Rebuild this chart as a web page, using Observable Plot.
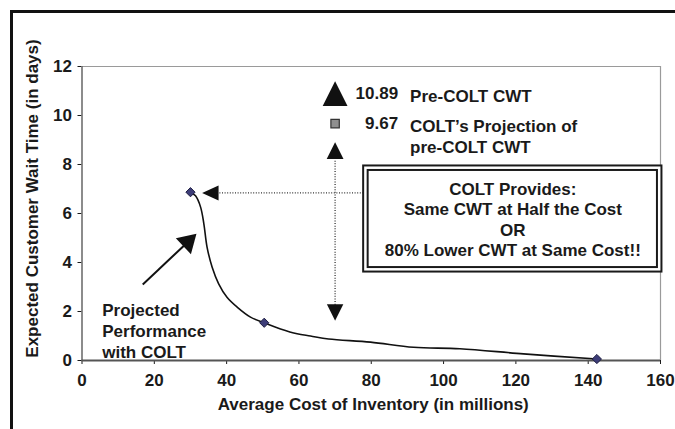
<!DOCTYPE html>
<html>
<head>
<meta charset="utf-8">
<script src="https://cdn.jsdelivr.net/npm/d3@7"></script>
<script src="https://cdn.jsdelivr.net/npm/@observablehq/plot@0.6"></script>
<style>
  html, body { margin: 0; padding: 0; background: #fff; }
  #wrap { position: relative; width: 675px; height: 429px; overflow: hidden; }
  #frame { position: absolute; left: 10px; top: 10px; width: 665px; height: 419px;
           border-top: 3px solid #111; border-left: 3px solid #111; pointer-events: none; box-sizing: border-box; }
</style>
</head>
<body>
<div id="wrap"><div id="frame"></div></div>
<script>
// ---- data ----
const xTicks = [0, 20, 40, 60, 80, 100, 120, 140, 160];
const yTicks = [0, 2, 4, 6, 8, 10, 12];

// projected performance curve (cost in millions, CWT in days)
const curveCost = [30, 31.4, 32.8, 33.7, 34.6, 36, 37.8, 40.1, 42.9, 46.6, 50.4, 54.9, 59.5, 63.2, 68.2, 79.8, 91.7, 104.5, 122.1, 142.4];
const curveWait = [6.87, 6.72, 6.26, 5.58, 4.62, 3.81, 3.13, 2.58, 2.18, 1.77, 1.54, 1.29, 1.09, 1.0, 0.88, 0.75, 0.54, 0.48, 0.27, 0.06];

// highlighted points on the curve
const pointCost = [30, 50.4, 142.4];
const pointWait = [6.87, 1.54, 0.06];

// pre-COLT markers
const preCost = 70;
const preCWT = 10.89;          // Pre-COLT CWT
const projCWT = 9.67;          // COLT's projection of pre-COLT CWT
const preLabels = ["10.89", "9.67"];
const preTexts = ["Pre-COLT CWT", "COLT\u2019s Projection of\npre-COLT CWT"];

// annotation arrows
const vArrow = {x: 70, yTop: 8.57, yBottom: 1.96};        // vertical dotted double arrow
const hArrow = {y: 6.84, xHead: 35.5, xEnd: 77.9};        // horizontal dotted arrow
const projArrow = {x1: 16.8, y1: 3.10, x2: 31.66, y2: 5.17};
const projText = {x: 5.6, y: 2.15, text: "Projected\nPerformance\nwith COLT"};

// callout box
const box = {x1: 77.9, x2: 160.4, y1: 3.61, y2: 7.94};
const boxText = "COLT Provides:\nSame CWT at Half the Cost\nOR\n80% Lower CWT at Same Cost!!";

const xTitle = "Average Cost of Inventory (in millions)";
const yTitle = "Expected Customer Wait Time (in days)";

// ---- layout ----
const W = 675, H = 429;
const mL = 81.5, mR = 15, mT = 66, mB = 69;
const sx = d3.scaleLinear([0, 160], [mL, W - mR]);
const sy = d3.scaleLinear([0, 12], [H - mB, mT]);

// custom symbols (bbox-centred)
function tri(dir) {
  return {draw(ctx, size) {
    const r = Math.sqrt(size / Math.PI);
    if (dir === "up") { ctx.moveTo(0, -r); ctx.lineTo(r, r); ctx.lineTo(-r, r); }
    else if (dir === "down") { ctx.moveTo(0, r); ctx.lineTo(r, -r); ctx.lineTo(-r, -r); }
    else if (dir === "left") { ctx.moveTo(-r, 0); ctx.lineTo(r, -r * 0.92); ctx.lineTo(r, r * 0.92); }
    ctx.closePath();
  }};
}
const diamond = {draw(ctx, size) {
  const r = Math.sqrt(size / Math.PI);
  ctx.moveTo(0, -r); ctx.lineTo(r, 0); ctx.lineTo(0, r); ctx.lineTo(-r, 0); ctx.closePath();
}};
const square = {draw(ctx, size) {
  const r = Math.sqrt(size / Math.PI);
  ctx.rect(-r, -r, 2 * r, 2 * r);
}};
const theta = Math.atan2(sy(projArrow.y2) - sy(projArrow.y1), sx(projArrow.x2) - sx(projArrow.x1));
const head = {draw(ctx) {
  const L = 18, Wd = 11, c = Math.cos(theta), s = Math.sin(theta);
  ctx.moveTo(0, 0);
  ctx.lineTo(-L * c - Wd * s, -L * s + Wd * c);
  ctx.lineTo(-L * c + Wd * s, -L * s - Wd * c);
  ctx.closePath();
}};

const curveData = curveCost.map((x, i) => ({x, y: curveWait[i]}));
const pointData = pointCost.map((x, i) => ({x, y: pointWait[i]}));
const legendData = [
  {x: preCost, y: preCWT, label: preLabels[0], text: preTexts[0]},
  {x: preCost, y: projCWT, label: preLabels[1], text: preTexts[1]}
];
// shaft ends inside the arrow head
const shaftEnd = {x: projArrow.x2 - (projArrow.x2 - projArrow.x1) * 0.14, y: projArrow.y2 - (projArrow.y2 - projArrow.y1) * 0.14};

const font = "'Liberation Sans', Arial, Helvetica, sans-serif";
const ink = "#1a1a1a";

const chart = Plot.plot({
  width: W, height: H,
  marginLeft: mL, marginRight: mR, marginTop: mT, marginBottom: mB,
  style: {fontFamily: font, fontSize: "17px", fontWeight: "bold", color: ink, background: "transparent", overflow: "visible"},
  x: {domain: [0, 160], ticks: xTicks, tickSize: 4, tickPadding: 9, label: null},
  y: {domain: [0, 12], ticks: yTicks, tickSize: 4, tickPadding: 6, label: null},
  marks: [
    // plot area frame
    Plot.ruleY([12], {stroke: "#9a9a9a", strokeWidth: 1.2}),
    Plot.ruleX([160], {stroke: "#9a9a9a", strokeWidth: 1.2}),
    Plot.ruleX([0], {stroke: "#666", strokeWidth: 1.5}),
    Plot.ruleY([0], {stroke: "#555", strokeWidth: 2}),
    // dotted arrows
    Plot.ruleX([vArrow], {x: "x", y1: d => d.yBottom + 0.3, y2: d => d.yTop - 0.3, stroke: "#333", strokeWidth: 1.3, strokeDasharray: "1,1.6"}),
    Plot.ruleY([hArrow], {y: "y", x1: d => d.xHead + 1.2, x2: "xEnd", stroke: "#333", strokeWidth: 1.3, strokeDasharray: "1,1.6"}),
    Plot.dot([vArrow], {x: "x", y: "yTop", symbol: tri("up"), r: 8.4, fill: "#111", stroke: "none"}),
    Plot.dot([vArrow], {x: "x", y: "yBottom", symbol: tri("down"), r: 8.2, fill: "#111", stroke: "none"}),
    Plot.dot([hArrow], {x: "xHead", y: "y", symbol: tri("left"), r: 8.2, fill: "#111", stroke: "none"}),
    // curve
    Plot.line(curveData, {x: "x", y: "y", curve: "catmull-rom", stroke: "#111", strokeWidth: 1.6}),
    Plot.dot(pointData, {x: "x", y: "y", symbol: diamond, r: 4.6, fill: "#3d3d78", stroke: "#1c1c40", strokeWidth: 1}),
    // pre-COLT markers
    Plot.dot([legendData[0]], {x: "x", y: "y", symbol: tri("up"), r: 12.4, fill: "#111", stroke: "none"}),
    Plot.dot([legendData[1]], {x: "x", y: "y", symbol: square, r: 4.2, fill: "#8f8f8f", stroke: "#333", strokeWidth: 1.2}),
    Plot.text(legendData, {x: "x", y: "y", text: "label", textAnchor: "end", dx: 63, fill: ink}),
    Plot.text(legendData, {x: "x", y: "y", text: "text", textAnchor: "start", lineAnchor: "top", lineHeight: 1.22, dx: 75, dy: -6, fill: ink}),
    // projected performance arrow
    Plot.link([{...projArrow, ex: shaftEnd.x, ey: shaftEnd.y}], {x1: "x1", y1: "y1", x2: "ex", y2: "ey", stroke: "#111", strokeWidth: 2}),
    Plot.dot([projArrow], {x: "x2", y: "y2", symbol: head, r: 5, fill: "#111", stroke: "none"}),
    Plot.text([projText], {x: "x", y: "y", text: "text", textAnchor: "start", lineAnchor: "top", lineHeight: 1.21, dy: -6, fill: ink}),
    // callout box
    Plot.rect([box], {x1: "x1", x2: "x2", y1: "y1", y2: "y2", fill: "white", stroke: "#1a1a1a", strokeWidth: 2}),
    Plot.rect([box], {x1: "x1", x2: "x2", y1: "y1", y2: "y2", inset: 4.5, fill: "none", stroke: "#1a1a1a", strokeWidth: 2}),
    Plot.text([box], {x: d => (d.x1 + d.x2) / 2, y: d => (d.y1 + d.y2) / 2, text: () => boxText, lineHeight: 1.21, fill: ink}),
    // axis titles
    Plot.text([xTitle], {frameAnchor: "bottom", text: d => d, textAnchor: "middle", lineAnchor: "middle", dy: 44, dx: 2, fill: ink}),
    Plot.text([yTitle], {frameAnchor: "left", text: d => d, textAnchor: "middle", lineAnchor: "middle", rotate: -90, dx: -49, dy: -15, fill: ink})
  ]
});
document.getElementById("wrap").insertBefore(chart, document.getElementById("frame"));
</script>
</body>
</html>
